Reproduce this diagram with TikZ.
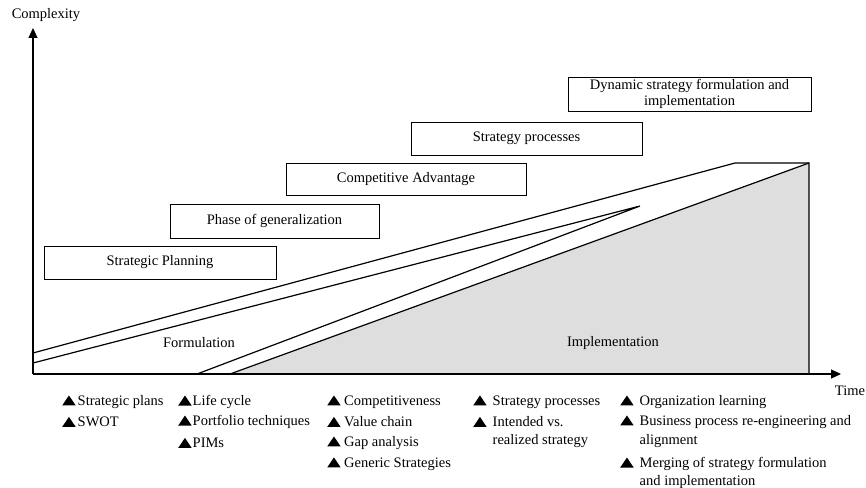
\documentclass[tikz,border=0pt]{standalone}
\usepackage{fontspec}
\setmainfont{Liberation Serif}
\usetikzlibrary{arrows.meta}
% filled triangle bullet used in the tool lists
\newcommand\tribul{\tikz[baseline=0pt]\fill (0pt,0pt) -- (13.5pt,0pt) -- (6.75pt,10pt) -- cycle;}
\begin{document}
\begin{tikzpicture}[x=1pt,y=-1pt,
  every node/.style={font=\fontsize{14.5}{16}\selectfont, inner sep=0pt},
  phasebox/.style={draw, line width=1pt, align=center},
  axisline/.style={line width=1.2pt, -{Triangle[length=10pt,width=9pt]}},
  trend/.style={line width=1.2pt, line join=miter},
  item/.style={anchor=west, align=left}]
\useasboundingbox (0,0) rectangle (866,487);

% axes
\coordinate (O) at (33,374);
\coordinate (ytip) at (33,28);
\coordinate (xtip) at (841,374);

% phase curves
\coordinate (a1) at (33,353);
\coordinate (a2) at (735,163);
\coordinate (r)  at (809,163);
\coordinate (rb) at (809,374);
\coordinate (b1) at (33,363);
\coordinate (t)  at (640,206);
\coordinate (c1) at (197,374);
\coordinate (g1) at (230,374);

\fill[black!13] (g1) -- (r) -- (rb) -- cycle;
\draw[trend] (a1) -- (a2) -- (r) -- (rb);
\draw[trend] (b1) -- (t) -- (c1);
\draw[trend] (g1) -- (r);

\draw[axisline] (O) -- (ytip);
\draw[axisline] (O) -- (xtip);

\node (ylab) at (46,15) {Complexity};
\node (xlab) at (850,391) {Time};

\node (form) at (199,343) {Formulation};
\node (impl) at (613,343) {Implementation};

% phase boxes
\node[phasebox, minimum width=232pt, minimum height=33pt] (sp) at (160,262.5) {Strategic Planning};
\node[phasebox, minimum width=209pt, minimum height=34pt] (pg) at (274.5,221) {Phase of generalization};
\node[phasebox, minimum width=240pt, minimum height=32pt] (ca) at (406,179) {Competitive Advantage};
\node[phasebox, minimum width=231pt, minimum height=33pt] (spr) at (526.5,138.5) {Strategy processes};
\node[phasebox, minimum width=243pt, minimum height=34pt] (dyn) at (689.5,94) {Dynamic strategy formulation and\\implementation};

% tools of each phase
\node[item] (l1a) at (62,402) {\tribul\hspace{2pt}Strategic plans};
\node[item] (l1b) at (62,422) {\tribul\hspace{2pt}SWOT};

\node[item] (l2a) at (178,402) {\tribul\hspace{1pt}Life cycle};
\node[item] (l2b) at (178,422) {\tribul\hspace{1pt}Portfolio techniques};
\node[item] (l2c) at (178,443) {\tribul\hspace{1pt}PIMs};

\node[item] (l3a) at (327,402) {\tribul\hspace{3.5pt}Competitiveness};
\node[item] (l3b) at (327,422) {\tribul\hspace{3.5pt}Value chain};
\node[item] (l3c) at (327,443) {\tribul\hspace{3.5pt}Gap analysis};
\node[item] (l3d) at (327,464) {\tribul\hspace{3.5pt}Generic Strategies};

\node[item] (l4a) at (473,402) {\tribul\hspace{6pt}Strategy processes};
\node[item] (l4b) at (473,422) {\tribul\hspace{6pt}Intended vs.};
\node[item] (l4c) at (492.5,441) {realized strategy};

\node[item] (l5a) at (620,402) {\tribul\hspace{6pt}Organization learning};
\node[item] (l5b) at (620,422) {\tribul\hspace{6pt}Business process re-engineering and};
\node[item] (l5c) at (639.5,441) {alignment};
\node[item] (l5d) at (620,464) {\tribul\hspace{6pt}Merging of strategy formulation};
\node[item] (l5e) at (639.5,482) {and implementation};
\end{tikzpicture}
\end{document}
